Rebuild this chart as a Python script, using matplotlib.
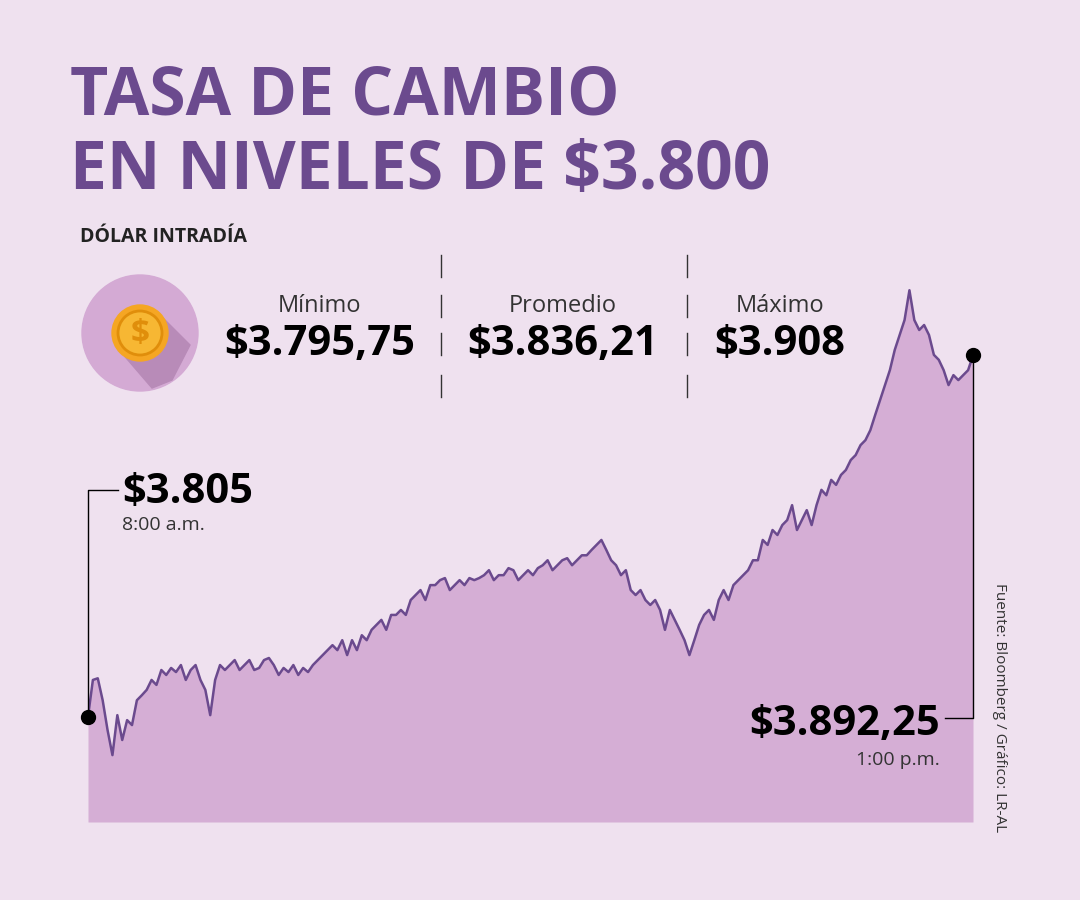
import numpy as np
import matplotlib
matplotlib.use("Agg")
import matplotlib.pyplot as plt
from matplotlib.patches import Circle, Polygon

values = [3805,3813.9,3814.3,3809.0,3801.8,3795.75,3805.4,3799.4,3804.2,3803.0,3809.0,3810.2,3811.5,3813.9,3812.7,3816.3,3815.1,3816.8,3815.8,3817.5,
3813.9,3816.3,3817.5,3813.9,3811.5,3805.4,3813.9,3817.5,3816.3,3817.5,3818.7,3816.3,3817.5,3818.7,3816.3,3816.8,3818.7,3819.2,3817.5,3815.1,
3816.8,3815.8,3817.5,3815.1,3816.8,3815.8,3817.5,3818.7,3819.9,3821.1,3822.3,3821.1,3823.5,3819.9,3823.5,3821.1,3824.7,3823.5,3826.0,3827.2,
3828.4,3826.0,3829.6,3829.6,3830.8,3829.6,3833.2,3834.4,3835.6,3833.2,3836.8,3836.8,3838.0,3838.5,3835.6,3836.8,3838.0,3836.8,3838.5,3838.0,
3838.5,3839.2,3840.4,3838.0,3839.2,3839.2,3840.9,3840.4,3838.0,3839.2,3840.4,3839.2,3840.9,3841.6,3842.8,3840.4,3841.6,3842.8,3843.3,3841.6,
3842.8,3844.0,3844.0,3845.3,3846.5,3847.7,3845.3,3842.8,3841.6,3839.2,3840.4,3835.6,3834.4,3835.6,3833.2,3832.0,3833.2,3830.8,3826.0,3830.8,
3828.4,3826.0,3823.5,3819.9,3823.5,3827.2,3829.6,3830.8,3828.4,3833.2,3835.6,3833.2,3836.8,3838.0,3839.2,3840.4,3842.8,3842.8,3847.7,3846.5,
3850.1,3848.9,3851.3,3852.5,3856.1,3850.1,3852.5,3854.9,3851.3,3856.1,3859.8,3858.5,3862.2,3861.0,3863.4,3864.6,3867.0,3868.2,3870.6,3871.8,
3874.2,3877.9,3881.5,3885.1,3888.7,3893.6,3897.2,3900.8,3908.0,3900.8,3898.4,3899.6,3897.2,3892.4,3891.2,3888.7,3885.1,3887.5,3886.3,3887.5,
3888.7,3892.25]
x = np.arange(len(values))

BG = "#EFE1EF"
PURPLE = "#6B4A8E"
FILL = "#D5AED5"

fig = plt.figure(figsize=(10.8, 9), dpi=100, facecolor=BG)
ax = fig.add_axes([88/1080, 78/900, 885/1080, 562/900])
ax.set_facecolor("none")
ymin, ymax = 3779.6, 3915.3
ax.fill_between(x, values, ymin, color=FILL, lw=0)
ax.plot(x, values, color=PURPLE, lw=1.8)
ax.set_xlim(x[0], x[-1]); ax.set_ylim(ymin, ymax)
ax.axis("off")
ax.plot([x[0], x[-1]], [values[0], values[-1]], "o", color="black", ms=10, clip_on=False, zorder=5)

ov = fig.add_axes([0, 0, 1, 1], facecolor="none")
ov.set_xlim(0, 1080); ov.set_ylim(900, 0); ov.axis("off")
ov.plot([88, 88, 118], [717, 490, 490], color="black", lw=1)
ov.plot([973, 973, 945], [355, 718, 718], color="black", lw=1)
for sx in (441, 687):
    for y0 in (255, 295, 333, 375):
        ov.plot([sx, sx], [y0, y0+22], color="#333333", lw=1)

F = "Open Sans"
ov.text(70, 97, "TASA DE CAMBIO", fontsize=47.5, fontweight="bold", color=PURPLE, family=F, va="center")
ov.text(70, 172, "EN NIVELES DE $3.800", fontsize=47.5, fontweight="bold", color=PURPLE, family=F, va="center")
ov.text(80, 237, "DÓLAR INTRADÍA", fontsize=14, fontweight="bold", color="#222222", family=F, va="center")

for cx, lab, val in [(320, "Mínimo", "$3.795,75"), (563, "Promedio", "$3.836,21"), (780, "Máximo", "$3.908")]:
    ov.text(cx, 306, lab, fontsize=17, color="#333333", family=F, ha="center", va="center")
    ov.text(cx, 345, val, fontsize=30, fontweight="bold", color="black", family=F, ha="center", va="center")

ov.text(122, 492, "$3.805", fontsize=30, fontweight="bold", color="black", family=F, va="center")
ov.text(122, 525, "8:00 a.m.", fontsize=14, color="#333333", family=F, va="center")
ov.text(940, 725, "$3.892,25", fontsize=30, fontweight="bold", color="black", family=F, va="center", ha="right")
ov.text(940, 760, "1:00 p.m.", fontsize=14, color="#333333", family=F, va="center", ha="right")
ov.text(1000, 708, "Fuente: Bloomberg / Gráfico: LR-AL", fontsize=11, color="#333333", family=F,
        rotation=-90, ha="center", va="center")

# coin icon
ov.add_patch(Circle((140, 333), 58, color="#D4AAD4", zorder=1))
ov.add_patch(Polygon([(121, 352), (159, 314), (190, 345), (172, 380), (152, 388)], closed=True, color="#B88BB8", zorder=2))
ov.add_patch(Circle((140, 333), 28, color="#F5A623", zorder=3))
ov.add_patch(Circle((140, 333), 22, color="#F7B733", ec="#E08E0B", lw=2, zorder=4))
ov.text(140, 334, "$", fontsize=24, fontweight="bold", color="#E08E0B", family=F, ha="center", va="center", zorder=5)

fig.savefig("out.png", dpi=100, facecolor=BG)
